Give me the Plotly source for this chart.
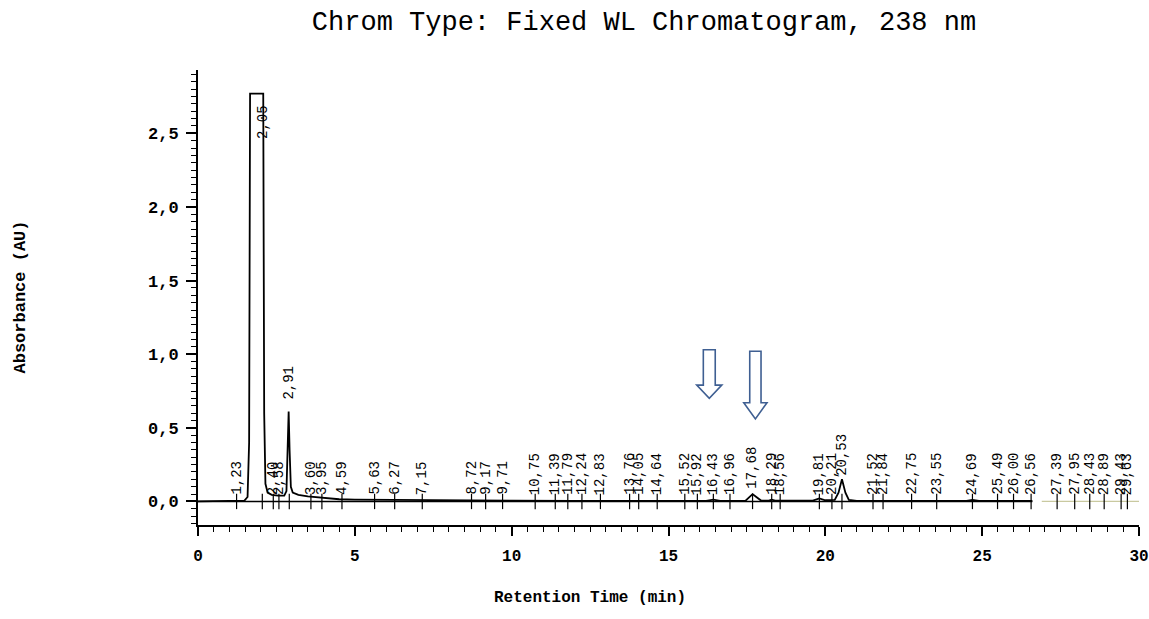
import plotly.graph_objects as go

# ---- data ----
trace_time = [0.00, 1.30, 1.48, 1.58, 1.63, 1.66, 2.08, 2.11, 2.15, 2.22, 2.35, 2.55, 2.75,
              2.82, 2.86, 2.89, 2.92, 2.96, 3.02, 3.20, 3.50, 3.80, 4.10, 4.50, 5.00, 6.00,
              7.00, 8.50, 10.0, 12.0, 14.0, 16.2, 16.43, 16.65, 17.45, 17.60, 17.68, 17.80,
              17.95, 18.20, 18.29, 18.40, 19.60, 19.81, 20.00, 20.30, 20.42, 20.53, 20.64,
              20.75, 21.0, 24.5, 24.69, 24.9, 26.6]
trace_abs = [0.0, 0.0, 0.005, 0.03, 0.4, 2.77, 2.77, 0.6, 0.12, 0.06, 0.045, 0.04, 0.04,
             0.07, 0.35, 0.61, 0.35, 0.1, 0.06, 0.045, 0.035, 0.03, 0.02, 0.015, 0.012, 0.01,
             0.008, 0.006, 0.005, 0.004, 0.004, 0.004, 0.012, 0.004, 0.004, 0.035, 0.05, 0.03,
             0.006, 0.005, 0.012, 0.005, 0.005, 0.02, 0.008, 0.01, 0.06, 0.15, 0.06,
             0.01, 0.004, 0.004, 0.01, 0.004, 0.004]

peak_times = [1.23, 2.05, 2.40, 2.58, 2.91, 3.60, 3.95, 4.59, 5.63, 6.27, 7.15, 8.72, 9.17,
              9.71, 10.75, 11.39, 11.79, 12.24, 12.83, 13.76, 14.05, 14.64, 15.52, 15.92,
              16.43, 16.96, 17.68, 18.29, 18.56, 19.81, 20.21, 20.53, 21.52, 21.84, 22.75,
              23.55, 24.69, 25.49, 26.00, 26.56, 27.39, 27.95, 28.43, 28.89, 29.43, 29.63]
# height (AU) of the bottom of each peak label
label_base = [0.03] * len(peak_times)
label_base[1] = 2.45   # 2,05 inside the saturated peak
label_base[4] = 0.68   # 2,91 above its peak
label_base[26] = 0.07  # 17,68
label_base[31] = 0.16  # 20,53

baseline_time = [0.0, 26.6]
baseline_tail_time = [26.9, 30.0]

y_ticks = [0.0, 0.5, 1.0, 1.5, 2.0, 2.5]
x_ticks = [0, 5, 10, 15, 20, 25, 30]

# arrows (x centre, top, head base, tip) in data units
arrow_x = [16.30, 17.77]
arrow_top = [1.03, 1.02]
arrow_base = [0.79, 0.67]
arrow_tip = [0.70, 0.56]
arrow_shaft_half = [0.19, 0.18]
arrow_head_half = [0.40, 0.37]

W, H = 1149, 619
L, R, T, B = 198, 10, 70, 94

fig = go.Figure()

fig.add_trace(go.Scatter(x=baseline_time, y=[0, 0], mode="lines",
                         line=dict(color="black", width=1.6), hoverinfo="skip"))
fig.add_trace(go.Scatter(x=baseline_tail_time, y=[0, 0], mode="lines",
                         line=dict(color="#c9c9a0", width=1.2), hoverinfo="skip"))
fig.add_trace(go.Scatter(x=trace_time, y=trace_abs, mode="lines",
                         line=dict(color="black", width=1.8)))
fig.add_trace(go.Scatter(x=peak_times, y=[0] * len(peak_times), mode="markers",
                         marker=dict(symbol="line-ns-open", size=11, color="black",
                                     line=dict(color="black", width=1.2)),
                         hoverinfo="skip"))

for t, b in zip(peak_times, label_base):
    fig.add_annotation(x=t, y=b, xref="x", yref="y", text=f"{t:.2f}".replace(".", ","),
                       textangle=-90, showarrow=False, xanchor="center", yanchor="bottom",
                       font=dict(family="Liberation Mono", size=14, color="black"))

for xc, top, base, tip, sh, hh in zip(arrow_x, arrow_top, arrow_base, arrow_tip,
                                      arrow_shaft_half, arrow_head_half):
    path = (f"M {xc - sh} {top} L {xc + sh} {top} L {xc + sh} {base} L {xc + hh} {base} "
            f"L {xc} {tip} L {xc - hh} {base} L {xc - sh} {base} Z")
    fig.add_shape(type="path", path=path, xref="x", yref="y",
                  line=dict(color="#3f5f92", width=1.6), fillcolor="white")

pw = W - L - R
ph = H - T - B
# axis titles as annotations placed in paper coordinates
fig.add_annotation(text="Retention Time (min)", xref="paper", yref="paper",
                   x=(590 - L) / pw, y=-(598 - (H - B)) / ph, showarrow=False,
                   xanchor="center", yanchor="middle",
                   font=dict(family="Liberation Mono", size=16, color="black", weight="bold"))
fig.add_annotation(text="Absorbance (AU)", xref="paper", yref="paper",
                   x=(20 - L) / pw, y=0.5, showarrow=False, textangle=-90,
                   xanchor="center", yanchor="middle",
                   font=dict(family="Liberation Mono", size=17, color="black", weight="bold"))

fig.update_layout(
    width=W, height=H,
    margin=dict(l=L, r=R, t=T, b=B, autoexpand=False),
    paper_bgcolor="white", plot_bgcolor="white",
    showlegend=False,
    separators=", ",
    title=dict(text="Chrom Type: Fixed WL Chromatogram, 238 nm", x=644 / W,
               xanchor="center", y=1 - 21 / H, yanchor="middle",
               font=dict(family="Liberation Mono", size=27, color="black")),
)
fig.update_xaxes(range=[0, 30.0], showline=True, linecolor="black", linewidth=2,
                 automargin=False,
                 showgrid=False, zeroline=False, ticks="outside", ticklen=9, tickwidth=1.5,
                 tickcolor="black", tickvals=x_ticks, ticklabelstandoff=6,
                 minor=dict(dtick=0.5, tick0=0, ticks="outside", ticklen=5, tickcolor="black",
                            tickwidth=1.2),
                 tickfont=dict(family="Liberation Mono", size=16, color="black", weight="bold"))
fig.update_yaxes(range=[-0.16, 2.93], showline=True, linecolor="black", linewidth=2,
                 automargin=False,
                 showgrid=False, zeroline=False, ticks="outside", ticklen=10, tickwidth=1.5,
                 tickcolor="black", tickvals=y_ticks, tickformat=".1f", ticklabelstandoff=4,
                 minor=dict(dtick=0.05, tick0=0, ticks="outside", ticklen=5, tickcolor="black",
                            tickwidth=1.2),
                 tickfont=dict(family="Liberation Mono", size=17, color="black", weight="bold"))

fig.write_html("out.html", config={"displayModeBar": False},
               post_script="document.body.style.margin='0';document.body.style.overflow='hidden';")
